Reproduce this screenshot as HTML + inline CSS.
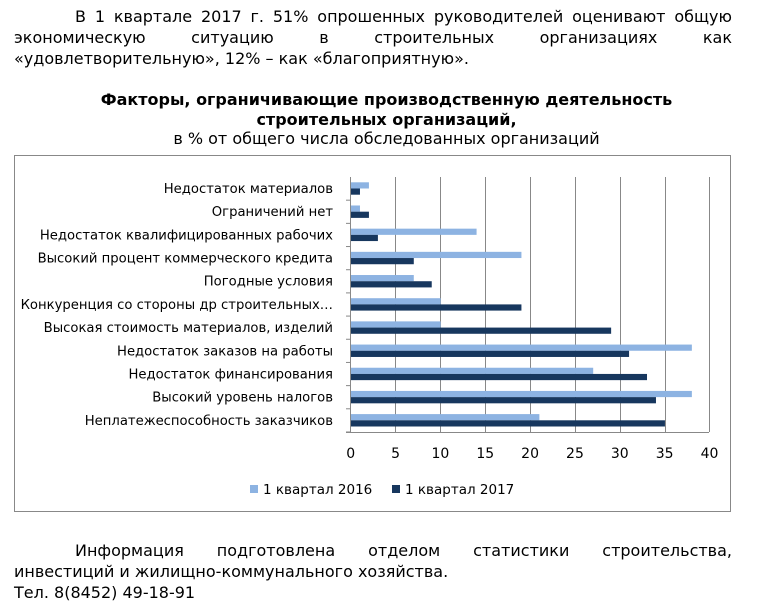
<!DOCTYPE html><html><head><meta charset="utf-8"><style>
body{margin:0;width:773px;height:604px;background:#fff;font-family:"DejaVu Sans","Liberation Sans",sans-serif;color:#000;position:relative;overflow:hidden}
.p{position:absolute;font-size:16px;line-height:21px}
</style></head><body>
<div class="p" style="left:14px;top:6px;width:718px;text-align:justify;text-align-last:justify;text-indent:61px">В 1 квартале 2017 г. 51% опрошенных руководителей оценивают общую экономическую ситуацию в строительных организациях как</div>
<div class="p" style="left:14px;top:48px">«удовлетворительную», 12% – как «благоприятную».</div>
<div class="p" style="left:0;width:773px;top:90px;text-align:center;font-weight:bold;line-height:20px">Факторы, ограничивающие производственную деятельность<br>строительных организаций,</div>
<div class="p" style="left:0;width:773px;top:128px;text-align:center">в % от общего числа обследованных организаций</div>
<svg style="position:absolute;left:0;top:0" width="773" height="604">
<rect x="14.5" y="155.5" width="716" height="356" fill="none" stroke="#888"/>
<g stroke="#888" stroke-width="1">
<line x1="395.5" y1="177" x2="395.5" y2="432"/><line x1="440.5" y1="177" x2="440.5" y2="432"/><line x1="485.5" y1="177" x2="485.5" y2="432"/><line x1="530.5" y1="177" x2="530.5" y2="432"/><line x1="575.5" y1="177" x2="575.5" y2="432"/><line x1="620.5" y1="177" x2="620.5" y2="432"/><line x1="665.5" y1="177" x2="665.5" y2="432"/><line x1="709.5" y1="177" x2="709.5" y2="432"/>
<line x1="350.5" y1="177" x2="350.5" y2="432"/><line x1="346" y1="432.5" x2="709" y2="432.5"/>
</g>
<g id="bars"></g>
<g font-family="DejaVu Sans,Liberation Sans,sans-serif" font-size="13.2" text-anchor="end" id="labs"></g>
<g font-family="DejaVu Sans,Liberation Sans,sans-serif" font-size="14" text-anchor="middle" id="ax"></g>
<rect x="250" y="485" width="8" height="8" fill="#8db3e2"/>
<text x="263" y="494" font-family="DejaVu Sans,sans-serif" font-size="13.5">1 квартал 2016</text>
<rect x="392" y="485" width="8" height="8" fill="#17375e"/>
<text x="405" y="494" font-family="DejaVu Sans,sans-serif" font-size="13.5">1 квартал 2017</text>
</svg>
<div class="p" style="left:14px;top:540px;width:718px;text-align:justify;text-align-last:justify;text-indent:61px">Информация подготовлена отделом статистики строительства,</div>
<div class="p" style="left:14px;top:561px">инвестиций и жилищно-коммунального хозяйства.</div>
<div class="p" style="left:14px;top:582px">Тел. 8(8452) 49-18-91</div>
<script>
var d=[["Недостаток материалов",2,1],["Ограничений нет",1,2],["Недостаток квалифицированных рабочих",14,3],["Высокий процент коммерческого кредита",19,7],["Погодные условия",7,9],["Конкуренция со стороны др строительных…",10,19],["Высокая стоимость материалов, изделий",10,29],["Недостаток заказов на работы",38,31],["Недостаток финансирования",27,33],["Высокий уровень налогов",38,34],["Неплатежеспособность заказчиков",21,35]];
var ns="http://www.w3.org/2000/svg",b=document.getElementById("bars"),l=document.getElementById("labs"),a=document.getElementById("ax"),s=8.97,h=23.18;
function e(t,o,p){var n=document.createElementNS(ns,t);for(var k in o)n.setAttribute(k,o[k]);p.appendChild(n);return n}
d.forEach(function(r,i){var y=177+i*h;
e("rect",{x:351,y:y+5.3,width:r[1]*s,height:6.2,fill:"#8db3e2"},b);
e("rect",{x:351,y:y+11.5,width:r[2]*s,height:6.2,fill:"#17375e"},b);
e("line",{x1:346,x2:351,y1:y+h,y2:y+h,stroke:"#888"},b);
e("text",{x:333,y:y+16},l).textContent=r[0];});
for(var i=0;i<=8;i++)e("text",{x:350.7+i*5*s,y:458},a).textContent=i*5;
</script>
</body></html>
